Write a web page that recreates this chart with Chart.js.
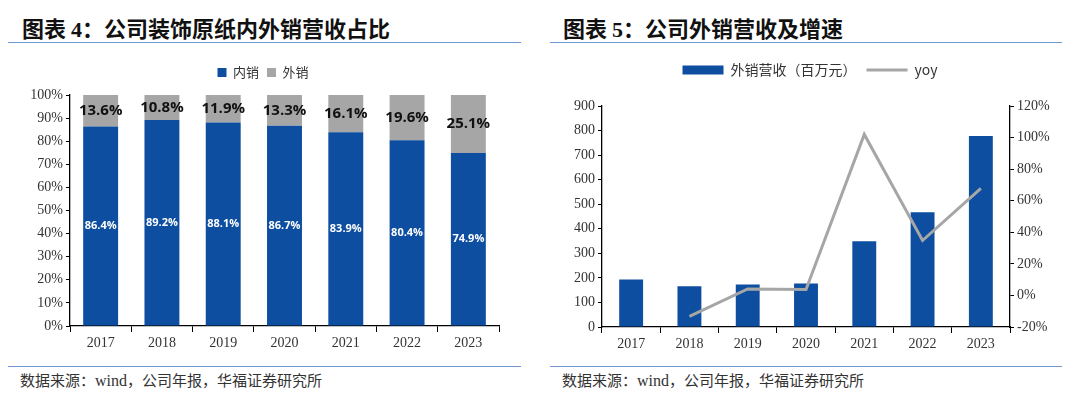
<!DOCTYPE html>
<html>
<head>
<meta charset="utf-8">
<script src="https://cdn.jsdelivr.net/npm/chart.js@4.4.1/dist/chart.umd.min.js"></script>
<style>
  body { margin: 0; background: #fff; width: 1080px; height: 410px; position: relative; overflow: hidden; }
  .title { position: absolute; top: 12px; font-family: "Noto Sans CJK SC", sans-serif; font-weight: bold; font-size: 22px; color: #111; white-space: nowrap; line-height: 30px; }
  .title .num { font-family: "Liberation Serif", serif; }
  .rule { position: absolute; height: 0; border-top: 1.5px solid #6f98d2; }
  .src { position: absolute; top: 369px; font-family: "Noto Sans CJK SC", sans-serif; font-size: 15px; color: #333; white-space: nowrap; }
  .src .en { font-family: "Liberation Serif", serif; font-size: 16px; }
  .box { position: absolute; }
</style>
</head>
<body>
<div class="title" style="left:22px">图表 <span class="num">4</span>：公司装饰原纸内外销营收占比</div>
<div class="title" style="left:563px">图表 <span class="num">5</span>：公司外销营收及增速</div>
<div class="rule" style="left:8px; width:513px; top:42px"></div>
<div class="rule" style="left:550px; width:512px; top:42px"></div>
<div class="rule" style="left:8px; width:513px; top:366px"></div>
<div class="rule" style="left:550px; width:512px; top:366px"></div>
<div class="src" style="left:20px">数据来源：<span class="en">wind</span>，公司年报，华福证券研究所</div>
<div class="src" style="left:562px">数据来源：<span class="en">wind</span>，公司年报，华福证券研究所</div>

<div class="box" style="left:0; top:58px; width:540px; height:302px"><canvas id="shareChart"></canvas></div>
<div class="box" style="left:540px; top:53px; width:540px; height:307px"><canvas id="exportChart"></canvas></div>

<script>
// data
var years = ["2017", "2018", "2019", "2020", "2021", "2022", "2023"];
var domesticShare = [86.4, 89.2, 88.1, 86.7, 83.9, 80.4, 74.9];
var exportShare = [13.6, 10.8, 11.9, 13.3, 16.1, 19.6, 25.1];
var exportRevenue = [193, 166, 173, 177, 349, 467, 778]; // 百万元
var exportYoy = [null, -13.3, 4.1, 3.7, 102, 34.8, 67.8]; // %

var BLUE = "#0d4ea0";
var GREY = "#a6a6a6";
var tickFont = { family: "Liberation Serif", size: 14 };

// write values in the middle of each stacked segment
var barLabels = {
  id: "barLabels",
  afterDatasetsDraw: function (chart) {
    var ctx = chart.ctx;
    ctx.save();
    ctx.textAlign = "center";
    ctx.textBaseline = "middle";
    chart.data.datasets.forEach(function (ds, i) {
      if (!ds.labelStyle) return;
      var meta = chart.getDatasetMeta(i);
      ctx.fillStyle = ds.labelStyle.color;
      ctx.font = ds.labelStyle.font;
      meta.data.forEach(function (bar, j) {
        var mid = (bar.y + bar.base) / 2;
        ctx.fillText(ds.data[j].toFixed(1) + "%", bar.x, mid);
      });
    });
    ctx.restore();
  }
};

// extra room under the legend
function legendGap(px) {
  return {
    id: "legendGap",
    beforeInit: function (chart) {
      var fit = chart.legend.fit;
      chart.legend.fit = function () {
        fit.call(this);
        this.height += px;
      };
    }
  };
}

function fixWidth(w) {
  return function (axis) { axis.width = w; };
}
function fixHeight(h) {
  return function (axis) { axis.height = h; };
}

new Chart(document.getElementById("shareChart"), {
  type: "bar",
  data: {
    labels: years,
    datasets: [
      {
        label: "内销",
        data: domesticShare,
        backgroundColor: BLUE,
        labelStyle: { color: "#fff", font: "bold 11px 'Open Sans'" }
      },
      {
        label: "外销",
        data: exportShare,
        backgroundColor: GREY,
        labelStyle: { color: "#111", font: "bold 15px 'Open Sans'" }
      }
    ]
  },
  options: {
    responsive: true,
    maintainAspectRatio: false,
    animation: false,
    layout: { padding: { left: 27, right: 41, top: 0, bottom: 0 } },
    datasets: { bar: { barPercentage: 0.57, categoryPercentage: 1 } },
    plugins: {
      tooltip: { enabled: false },
      legend: {
        labels: {
          boxWidth: 9, boxHeight: 9, padding: 8,
          color: "#333",
          font: { family: "Noto Sans CJK SC", size: 13 }
        }
      }
    },
    scales: {
      x: {
        stacked: true,
        afterFit: fixHeight(34),
        border: { color: "#000", width: 1.3 },
        grid: { drawOnChartArea: false, color: "#000", tickLength: 6, offset: true },
        ticks: { color: "#333", font: tickFont, padding: 3 }
      },
      y: {
        stacked: true,
        min: 0, max: 100,
        afterFit: fixWidth(43),
        border: { color: "#000", width: 1.3 },
        grid: { drawOnChartArea: false, color: "#000", tickLength: 4 },
        ticks: { stepSize: 10, color: "#333", font: tickFont, padding: 3,
          callback: function (v) { return v + "%"; } }
      }
    }
  },
  plugins: [barLabels, legendGap(6)]
});

new Chart(document.getElementById("exportChart"), {
  type: "bar",
  data: {
    labels: years,
    datasets: [
      {
        type: "line",
        label: "yoy",
        data: exportYoy,
        yAxisID: "y1",
        borderColor: GREY,
        backgroundColor: GREY,
        borderWidth: 3,
        pointRadius: 0,
        pointStyle: "line",
        tension: 0,
        order: 0
      },
      {
        label: "外销营收（百万元）",
        data: exportRevenue,
        yAxisID: "y",
        backgroundColor: BLUE,
        pointStyle: "rect",
        barPercentage: 0.41,
        categoryPercentage: 1,
        order: 1
      }
    ]
  },
  options: {
    responsive: true,
    maintainAspectRatio: false,
    animation: false,
    layout: { padding: { left: 0, right: 0, top: 0, bottom: 0 } },
    plugins: {
      tooltip: { enabled: false },
      legend: {
        reverse: true,
        labels: {
          usePointStyle: true, pointStyleWidth: 41, boxHeight: 9, padding: 10,
          color: "#333",
          font: { family: "Noto Sans CJK SC", size: 14 }
        }
      }
    },
    scales: {
      x: {
        afterFit: fixHeight(33),
        border: { color: "#000", width: 1.3 },
        grid: { drawOnChartArea: false, color: "#000", tickLength: 6, offset: true },
        ticks: { color: "#333", font: tickFont, padding: 3 }
      },
      y: {
        position: "left",
        min: 0, max: 900,
        afterFit: fixWidth(62),
        border: { color: "#000", width: 1.3 },
        grid: { drawOnChartArea: false, color: "#000", tickLength: 4 },
        ticks: { stepSize: 100, color: "#333", font: tickFont, padding: 3 }
      },
      y1: {
        position: "right",
        min: -20, max: 120,
        afterFit: fixWidth(70),
        border: { color: "#000", width: 1.3 },
        grid: { drawOnChartArea: false, color: "#000", tickLength: 4 },
        ticks: { stepSize: 20, color: "#333", font: tickFont, padding: 3,
          callback: function (v) { return v + "%"; } }
      }
    }
  },
  plugins: [legendGap(19)]
});
</script>
</body>
</html>
